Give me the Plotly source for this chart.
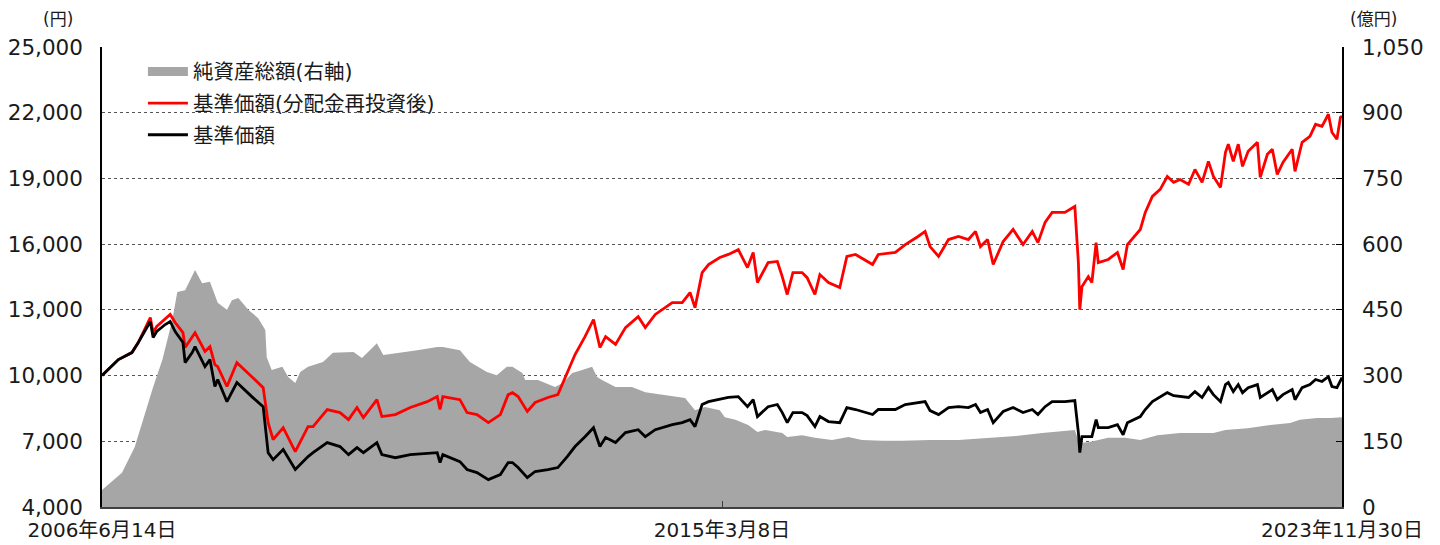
import pandas as pd
import plotly.graph_objects as go

# ---- data (decimal years) ----
line_years = [2006.449, 2006.68, 2006.87, 2006.96, 2007.13, 2007.17, 2007.22, 2007.34, 2007.41, 2007.48,
              2007.59, 2007.62, 2007.72, 2007.76, 2007.90, 2007.97, 2008.04, 2008.08, 2008.21, 2008.35,
              2008.56, 2008.72, 2008.79, 2008.86, 2009.00, 2009.17, 2009.35, 2009.42, 2009.62, 2009.80,
              2009.92, 2010.04, 2010.13, 2010.32, 2010.39, 2010.58, 2010.79, 2011.03, 2011.17, 2011.21,
              2011.25, 2011.49, 2011.59, 2011.73, 2011.89, 2012.06, 2012.17, 2012.23, 2012.31, 2012.44,
              2012.55, 2012.73, 2012.87, 2013.00, 2013.11, 2013.25, 2013.37, 2013.46, 2013.54, 2013.68,
              2013.82, 2014.00, 2014.10, 2014.24, 2014.48, 2014.62, 2014.73, 2014.80, 2014.90, 2014.99,
              2015.15, 2015.27, 2015.41, 2015.54, 2015.62, 2015.68, 2015.83, 2015.96, 2016.03, 2016.10,
              2016.18, 2016.31, 2016.38, 2016.49, 2016.56, 2016.68, 2016.84, 2016.94, 2017.06, 2017.30,
              2017.38, 2017.62, 2017.76, 2017.94, 2018.04, 2018.11, 2018.23, 2018.37, 2018.51, 2018.65,
              2018.75, 2018.82, 2018.92, 2019.00, 2019.14, 2019.28, 2019.42, 2019.55, 2019.63, 2019.73,
              2019.83, 2020.01, 2020.15, 2020.20, 2020.22, 2020.25, 2020.34, 2020.39, 2020.45, 2020.48,
              2020.62, 2020.75, 2020.83, 2020.89, 2021.07, 2021.14, 2021.24, 2021.35, 2021.45, 2021.54,
              2021.63, 2021.75, 2021.84, 2021.94, 2022.03, 2022.10, 2022.20, 2022.27, 2022.31, 2022.38,
              2022.45, 2022.51, 2022.59, 2022.72, 2022.76, 2022.86, 2022.93, 2023.00, 2023.08, 2023.21,
              2023.25, 2023.35, 2023.46, 2023.54, 2023.63, 2023.72, 2023.77, 2023.84, 2023.89, 2023.912]

nav_reinvested = [10000, 10730, 11050, 11510, 12650, 11960, 12240, 12560, 12790, 12420,
                  11960, 11280, 11740, 11960, 11100, 11320, 10500, 10410, 9500, 10590,
                  9950, 9450, 7850, 7080, 7620, 6530, 7670, 7670, 8450, 8310,
                  7990, 8540, 8080, 8900, 8130, 8220, 8540, 8810, 9040, 8450,
                  9040, 8900, 8310, 8220, 7850, 8220, 9130, 9220, 9040, 8360,
                  8770, 9000, 9130, 10140, 10960, 11780, 12560, 11280, 11780, 11420,
                  12190, 12690, 12190, 12790, 13330, 13330, 13790, 13100, 14700, 15070,
                  15390, 15530, 15750, 14930, 15620, 14250, 15160, 15210, 14520, 13700,
                  14700, 14700, 14470, 13700, 14610, 14250, 14020, 15440, 15530, 15070,
                  15530, 15620, 15980, 16350, 16580, 15890, 15440, 16210, 16350, 16210,
                  16580, 15890, 16210, 15070, 16120, 16670, 15980, 16580, 16070, 16990,
                  17450, 17450, 17720, 15160, 13010, 14060, 14520, 14250, 16070, 15160,
                  15300, 15620, 14840, 15980, 16670, 17450, 18180, 18500, 19090, 18820,
                  18950, 18730, 19410, 18820, 19780, 19090, 18590, 20190, 20560, 19780,
                  20560, 19550, 20240, 20650, 19050, 20100, 20330, 19180, 19730, 20330,
                  19320, 20650, 20920, 21470, 21380, 21930, 21110, 20790, 21790, 21840]

nav = [10000, 10730, 11050, 11510, 12470, 11740, 12010, 12330, 12470, 12010,
       11510, 10590, 11050, 11320, 10410, 10730, 9500, 9820, 8810, 9680,
       9040, 8580, 6480, 6160, 6620, 5710, 6300, 6480, 6940, 6760,
       6390, 6710, 6480, 6940, 6390, 6250, 6390, 6440, 6480, 6030,
       6390, 6070, 5710, 5570, 5250, 5480, 6030, 6030, 5800, 5340,
       5620, 5710, 5800, 6300, 6760, 7210, 7620, 6760, 7170, 6940,
       7400, 7530, 7210, 7530, 7760, 7850, 7990, 7670, 8680, 8810,
       8900, 9000, 9040, 8580, 8900, 8130, 8580, 8680, 8310, 7850,
       8310, 8310, 8170, 7670, 8130, 7900, 7850, 8540, 8450, 8220,
       8450, 8450, 8680, 8770, 8810, 8400, 8220, 8540, 8580, 8540,
       8680, 8310, 8450, 7850, 8360, 8540, 8310, 8450, 8220, 8580,
       8810, 8810, 8860, 7400, 6480, 7210, 7210, 7210, 7990, 7620,
       7620, 7760, 7300, 7850, 8130, 8450, 8810, 9040, 9220, 9080,
       9040, 9000, 9270, 9000, 9450, 9130, 8810, 9590, 9680, 9270,
       9590, 9220, 9450, 9590, 9000, 9220, 9360, 8900, 9130, 9360,
       8900, 9450, 9590, 9820, 9730, 9950, 9500, 9450, 9820, 9910]

asset_years = [2006.449, 2006.73, 2006.91, 2007.06, 2007.17, 2007.30, 2007.44, 2007.51, 2007.62, 2007.76,
               2007.86, 2007.97, 2008.08, 2008.21, 2008.28, 2008.37, 2008.51, 2008.65, 2008.75, 2008.77,
               2008.84, 2008.99, 2009.07, 2009.17, 2009.24, 2009.35, 2009.56, 2009.70, 2009.99, 2010.11,
               2010.32, 2010.41, 2010.65, 2010.89, 2011.17, 2011.25, 2011.49, 2011.63, 2011.87, 2012.01,
               2012.15, 2012.23, 2012.37, 2012.41, 2012.59, 2012.83, 2012.94, 2013.07, 2013.21, 2013.35,
               2013.42, 2013.49, 2013.68, 2013.91, 2014.10, 2014.38, 2014.66, 2014.80, 2014.94, 2015.15,
               2015.22, 2015.37, 2015.55, 2015.68, 2015.79, 2016.03, 2016.10, 2016.31, 2016.49, 2016.73,
               2016.96, 2017.15, 2017.44, 2017.72, 2018.11, 2018.51, 2019.03, 2019.32, 2019.69, 2020.15,
               2020.21, 2020.34, 2020.62, 2020.86, 2021.07, 2021.31, 2021.63, 2022.10, 2022.27, 2022.58,
               2022.90, 2023.18, 2023.32, 2023.56, 2023.75, 2023.912]

net_assets = [39, 78, 137, 215, 274, 336, 427, 491, 495, 541,
              511, 514, 466, 450, 472, 477, 450, 431, 404, 342,
              313, 320, 297, 283, 308, 320, 331, 352, 354, 340,
              374, 347, 352, 358, 365, 365, 358, 331, 308, 301,
              320, 320, 306, 290, 290, 274, 283, 306, 313, 320,
              297, 290, 274, 274, 262, 256, 249, 221, 228, 221,
              205, 199, 187, 171, 176, 169, 160, 164, 158, 153,
              160, 153, 151, 151, 153, 153, 158, 162, 169, 176,
              146, 148, 158, 158, 153, 164, 169, 169, 176, 180,
              187, 192, 199, 203, 203, 205]

left_ticks = [4000, 7000, 10000, 13000, 16000, 19000, 22000, 25000]
right_ticks = [0, 150, 300, 450, 600, 750, 900, 1050]
x_tick_dates = ["2006-06-14", "2015-03-08", "2023-11-30"]
x_tick_text = ["2006年6月14日", "2015年3月8日", "2023年11月30日"]


def to_date(y):
    yr = int(y)
    return pd.Timestamp(year=yr, month=1, day=1) + pd.Timedelta(days=(y - yr) * 365.25)


line_dates = [to_date(v) for v in line_years]
asset_dates = [to_date(v) for v in asset_years]

FONT = "DejaVu Sans, Noto Sans CJK JP"
TXT = "#1a1a1a"

fig = go.Figure()

# net assets (base axis: right scale)
fig.add_trace(go.Scatter(x=asset_dates, y=net_assets, yaxis="y", mode="lines",
                         line=dict(color="#a6a6a6", width=0), fill="tozeroy",
                         fillcolor="#a6a6a6", showlegend=False, hoverinfo="skip"))
# legend swatch for the area
fig.add_trace(go.Scatter(x=[None], y=[None], yaxis="y", mode="lines",
                         line=dict(color="#a6a6a6", width=9), name="純資産総額(右軸)",
                         legendgroup="a"))
fig.add_trace(go.Scatter(x=line_dates, y=nav_reinvested, yaxis="y2", mode="lines",
                         line=dict(color="#ff0000", width=2.8), name="基準価額(分配金再投資後)",
                         legendgroup="b"))
fig.add_trace(go.Scatter(x=line_dates, y=nav, yaxis="y2", mode="lines",
                         line=dict(color="#000000", width=2.8), name="基準価額",
                         legendgroup="c"))

fig.update_layout(
    width=1432, height=537,
    margin=dict(l=94, r=98, t=39, b=38),
    paper_bgcolor="white", plot_bgcolor="white",
    font=dict(family=FONT, size=21, color=TXT),
    xaxis=dict(type="date", range=["2006-06-14", "2023-11-30"],
               tickvals=x_tick_dates, ticktext=x_tick_text,
               ticks="inside", ticklen=6, tickcolor="#404040",
               showgrid=False, showline=True, linecolor="#404040", linewidth=2,
               tickfont=dict(size=20, color=TXT), zeroline=False, automargin=False,
               ticklabelstandoff=4),
    yaxis=dict(range=[0, 1050], tickvals=right_ticks, tickformat=",",
               side="right", showgrid=True, gridcolor="#555555", griddash="dot",
               gridwidth=1, ticks="inside", ticklen=6, tickcolor="#000000",
               showline=True, linecolor="#000000", linewidth=1.5,
               zeroline=False, ticklabelstandoff=14, automargin=False,
               tickfont=dict(size=21.5, color=TXT)),
    yaxis2=dict(range=[4000, 25000], tickvals=left_ticks, tickformat=",",
                side="left", overlaying="y", showgrid=False,
                showline=True, linecolor="#000000", linewidth=1.5,
                zeroline=False, ticks="", ticklabelstandoff=13, automargin=False,
                tickfont=dict(size=21.5, color=TXT)),
    legend=dict(x=0.033, y=0.99, xanchor="left", yanchor="top",
                bgcolor="rgba(0,0,0,0)", font=dict(size=20.5, color=TXT),
                tracegroupgap=2, itemwidth=40),
    annotations=[
        dict(text="(円)", xref="paper", yref="paper", x=-0.0355, y=1.0, yshift=39,
             xanchor="center", yanchor="top", showarrow=False, borderpad=0,
             font=dict(size=17, color=TXT)),
        dict(text="(億円)", xref="paper", yref="paper", x=1.0258, y=1.0, yshift=39,
             xanchor="center", yanchor="top", showarrow=False, borderpad=0,
             font=dict(size=17, color=TXT)),
    ],
)

fig.write_html("out.html")
